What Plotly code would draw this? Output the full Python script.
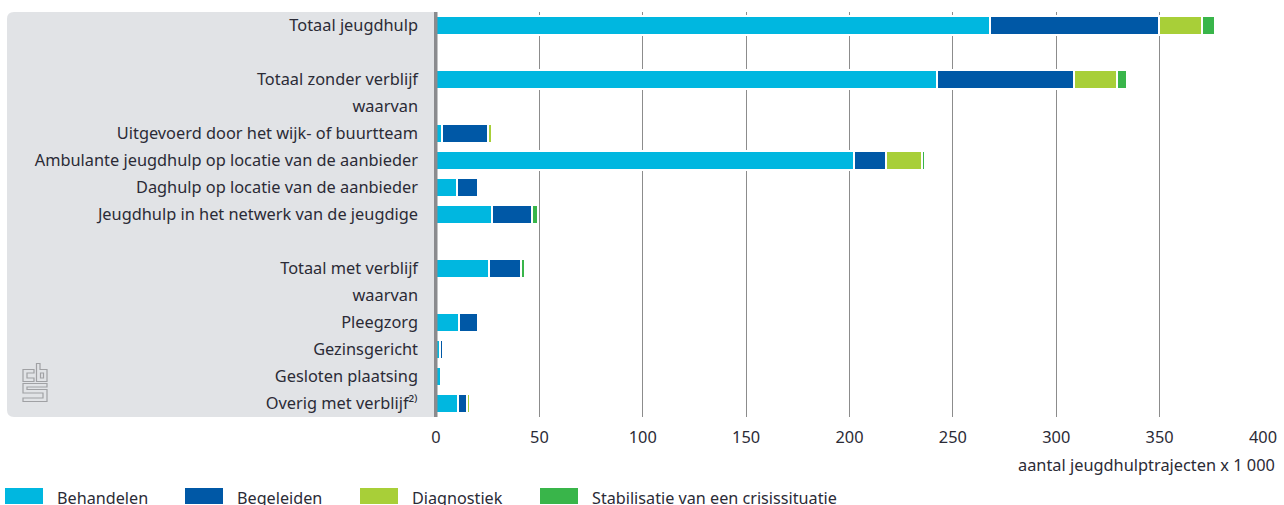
import plotly.graph_objects as go

categories = ["Totaal jeugdhulp", "", "Totaal zonder verblijf", "waarvan", "Uitgevoerd door het wijk- of buurtteam",
              "Ambulante jeugdhulp op locatie van de aanbieder", "Daghulp op locatie van de aanbieder",
              "Jeugdhulp in het netwerk van de jeugdige", "", "Totaal met verblijf", "waarvan", "Pleegzorg",
              "Gezinsgericht", "Gesloten plaatsing", "Overig met verblijf²⁾"]
behandelen = [267.9, None, 242.3, None, 2.9, 202.0, 10.2, 27.1, None, 25.6, None, 11.1, 2.1, 2.3, 10.6]
begeleiden = [81.7, None, 66.5, None, 22.3, 15.5, 10.0, 19.1, None, 15.4, None, 9.4, 1.5, 0.0, 4.3]
diagnostiek = [20.7, None, 20.5, None, 1.9, 17.7, 0.0, 0.0, None, 0.0, None, 0.0, 0.0, 0.0, 1.5]
stabilisatie = [6.4, None, 4.7, None, 0.0, 1.3, 0.0, 3.0, None, 2.0, None, 0.0, 0.0, 0.0, 0.0]
series = [("Behandelen", behandelen, "#00b7e0"), ("Begeleiden", begeleiden, "#0058a6"),
          ("Diagnostiek", diagnostiek, "#a8cf38"), ("Stabilisatie van een crisissituatie", stabilisatie, "#39b54a")]
xticks = [0, 50, 100, 150, 200, 250, 300, 350, 400]
x_title = "aantal jeugdhulptrajecten x 1 000"

W, H = 1284, 505
L, R, T, B = 436, 1263, 12, 417
FONT = "Noto Sans"
SIZE = 16.35
INK = "#2b2b36"
positions = list(range(len(categories)))

fig = go.Figure()
for name, vals, col in series:
    fig.add_trace(go.Bar(y=positions, x=vals, name=name, orientation="h",
                         marker=dict(color=col, line=dict(color="white", width=2)), showlegend=False))

def px(x): return (x - L) / (R - L)
def py(y): return (B - y) / (B - T)
def poly(*pts):
    return "M " + " L ".join(f"{px(a)} {py(b)}" for a, b in pts) + " Z"

shapes = [
    dict(type="path", xref="paper", yref="paper", layer="below", fillcolor="#e1e3e6", line_width=0,
         path=f"M {px(434)} {py(12)} L {px(14)} {py(12)} Q {px(7)} {py(12)} {px(7)} {py(19)} L {px(7)} {py(410)} Q {px(7)} {py(417)} {px(14)} {py(417)} L {px(434)} {py(417)} Z"),
    dict(type="rect", xref="paper", yref="paper", x0=px(434), x1=px(437.5), y0=py(12), y1=py(417), fillcolor="#8a8b8e", line_width=0, layer="above"),
]
logo = [
    poly((34, 369.5), (23, 369.5), (23, 381.5), (34, 381.5), (34, 378), (27, 378), (27, 373), (34, 373)),
    poly((36.5, 363.5), (40, 363.5), (40, 369.5), (47, 369.5), (47, 381.5), (36.5, 381.5)),
    poly((40.5, 373), (43.5, 373), (43.5, 378), (40.5, 378)),
    poly((23, 383.5), (47, 383.5), (47, 387), (27, 387), (27, 389.5), (47, 389.5), (47, 401.5), (23, 401.5), (23, 398), (43, 398), (43, 393), (23, 393)),
]
for p in logo:
    shapes.append(dict(type="path", xref="paper", yref="paper", path=p, line=dict(color="#a0a1a4", width=1.2), fillcolor="rgba(0,0,0,0)"))

ann = []
legend_x = [(5, 54.5), (185, 235), (360, 409.5), (540, 589.5)]
for (sx, tx), (name, _, col) in zip(legend_x, series):
    shapes.append(dict(type="rect", xref="paper", yref="paper", x0=px(sx), x1=px(sx + 38), y0=py(488), y1=py(504), fillcolor=col, line_width=0))
    ann.append(dict(text=name, xref="paper", yref="paper", x=px(tx), y=py(497.5), xanchor="left", yanchor="middle", showarrow=False,
                    font=dict(family=FONT, size=16.2, color=INK)))
ann.append(dict(text=x_title, xref="paper", yref="paper", x=px(1277), y=py(465), xanchor="right", yanchor="middle", showarrow=False,
                font=dict(family=FONT, size=SIZE, color=INK)))

fig.update_layout(width=W, height=H, barmode="stack", bargap=0.26, plot_bgcolor="white", paper_bgcolor="white",
                  margin=dict(l=L, r=W - R, t=T, b=H - B, pad=0, autoexpand=False), shapes=shapes, annotations=ann,
                  font=dict(family=FONT, size=SIZE, color=INK),
                  xaxis=dict(range=[0, 400], tickvals=xticks, showgrid=True, gridcolor="#8c8c8c", gridwidth=1, zeroline=False,
                             automargin=False, ticks="", ticklabelstandoff=9, tickfont=dict(size=SIZE)),
                  yaxis=dict(range=[14.5, -0.5], tickvals=positions, ticktext=categories, showgrid=False, zeroline=False,
                             automargin=False, ticks="", ticklabelstandoff=17, tickfont=dict(size=SIZE), showline=False))
fig.write_html("out.html", config={"displayModeBar": False}, post_script="document.body.style.margin='0';")
